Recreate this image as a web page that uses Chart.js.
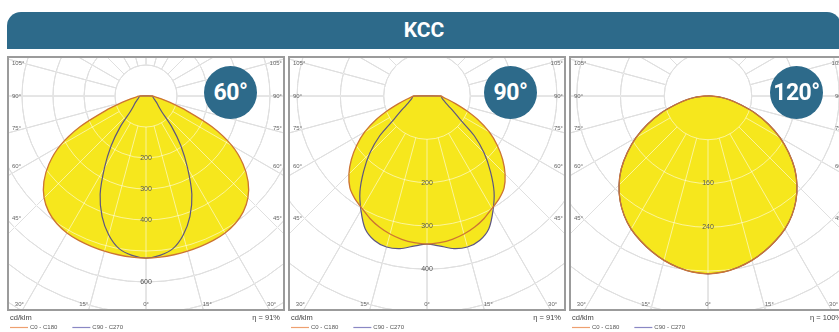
<!DOCTYPE html>
<html>
<head>
<meta charset="utf-8">
<script src="https://cdn.jsdelivr.net/npm/chart.js@4.4.0/dist/chart.umd.min.js"></script>
<style>
  html, body { margin: 0; padding: 0; background: #fff; }
  body { width: 839px; height: 332px; position: relative; overflow: hidden; font-family: Roboto, "DejaVu Sans", sans-serif; }
  .header { position: absolute; left: 7px; top: 12px; width: 834px; height: 37px; background: #2d6a8a;
            border-radius: 14px 14px 0 0; color: #fff; font-weight: 700; font-size: 21px; line-height: 37px; text-align: center; }
  .panel { position: absolute; top: 55px; }
  .badge { position: absolute; top: 66px; width: 53px; height: 53px; border-radius: 50%; background: #2d6a8a;
           color: #fff; font-weight: 700; font-size: 23px; line-height: 53px; text-align: center; letter-spacing: -0.5px; }
</style>
</head>
<body>
<div class="header">KCC</div>
<canvas class="panel" id="p60" width="278" height="277" style="left:7px"></canvas>
<canvas class="panel" id="p90" width="278" height="277" style="left:288px"></canvas>
<canvas class="panel" id="p120" width="278" height="277" style="left:569px"></canvas>
<div class="badge" id="b60" style="left:204px"></div>
<div class="badge" id="b90" style="left:484px"></div>
<div class="badge" id="b120" style="left:770px"></div>

<script>
// beam angles and efficiencies
const beamLabels = ["60°", "90°", "120°"];
const etaLabels = ["η = 91%", "η = 91%", "η = 100%"];
const seriesNames = ["C0 - C180", "C90 - C270"];
const unitLabel = "cd/klm";

// gamma angles (0° = straight down), intensities in cd/klm
const gamma = [0, 5, 10, 15, 20, 25, 30, 35, 40, 45, 50, 55, 60, 65, 70, 75, 80, 85, 90];

const c0_60  = [523, 522, 520, 518, 516, 514, 510, 502, 488, 465, 430, 382, 320, 235, 140, 80, 48, 30, 21];
const c90_60 = [523, 516, 500, 464, 414, 350, 268, 196, 128, 72, 54, 45, 38, 32, 28, 25, 23, 22, 21];

const c0_90  = [342, 340, 336, 330, 322, 312, 300, 290, 277, 255, 228, 198, 166, 130, 95, 68, 50, 38, 32];
const c90_90 = [342, 348, 358, 361, 355, 338, 305, 270, 228, 187, 142, 92, 70, 55, 46, 40, 36, 34, 32];

const c0_120  = [325, 323, 318, 311, 302, 292, 281, 267, 250, 230, 207, 180, 152, 122, 92, 62, 40, 20, 6];
const c90_120 = [325, 323, 318, 311, 302, 292, 281, 267, 250, 230, 207, 180, 152, 122, 92, 62, 40, 20, 6];

// rings (intensity grid) and the ones that carry a label
const rings60 = [100, 200, 300, 400, 500, 600, 700, 800, 900];
const ringLabels60 = [200, 300, 400, 600];
const rings90 = [100, 200, 300, 400, 500, 600, 700];
const ringLabels90 = [200, 300, 400];
const rings120 = [80, 160, 240, 320, 400, 480, 560];
const ringLabels120 = [160, 240];

// angle tick labels
const sideAngles = [105, 90, 75, 60, 45];
const bottomAngles = [30, 15, 0];
const spokeStep = 15;

const YELLOW = "#f6e71d";
const COL_C0 = "#cc7433";
const COL_C90 = "#5d5580";
const LEG_C0 = "#eea070";
const LEG_C90 = "#8a88c4";
const FRAME = "#9b9b9b";
const LABEL = "#666";

const rad = (d) => d * Math.PI / 180;

function polarPoints(values) {
  const pts = [];
  for (let i = gamma.length - 1; i >= 0; i--) {
    pts.push({ x: -values[i] * Math.sin(rad(gamma[i])), y: -values[i] * Math.cos(rad(gamma[i])) });
  }
  for (let i = 1; i < gamma.length; i++) {
    pts.push({ x: values[i] * Math.sin(rad(gamma[i])), y: -values[i] * Math.cos(rad(gamma[i])) });
  }
  return pts;
}

function drawGrid(chart, o, color) {
  const { ctx, chartArea: a, scales: { x, y } } = chart;
  const cx = x.getPixelForValue(0), cy = y.getPixelForValue(0);
  const r = (v) => x.getPixelForValue(v) - cx;
  ctx.save();
  ctx.beginPath();
  ctx.rect(a.left, a.top, a.width, a.height);
  ctx.clip();
  ctx.strokeStyle = color;
  ctx.lineWidth = 1;
  o.rings.forEach((v) => {
    ctx.beginPath();
    ctx.arc(cx, cy, r(v), 0, Math.PI * 2);
    ctx.stroke();
  });
  const r0 = r(o.rings[0]);
  const r1 = r(o.rings[o.rings.length - 1]) * 2;
  for (let g = 0; g < 360; g += spokeStep) {
    const sx = Math.sin(rad(g)), sy = Math.cos(rad(g));
    ctx.beginPath();
    ctx.moveTo(cx + sx * r0, cy + sy * r0);
    ctx.lineTo(cx + sx * r1, cy + sy * r1);
    ctx.stroke();
  }
  ctx.restore();
}

const polarPlugin = {
  id: "polarGrid",
  beforeDatasetsDraw(chart, args, o) {
    drawGrid(chart, o, "#bababa");
  },
  afterDatasetDraw(chart, args, o) {
    // fills are done: lay a pale grid over the yellow
    if (args.index === 2) drawGrid(chart, o, "rgba(255,255,255,0.55)");
  },
  afterDraw(chart, args, o) {
    const { ctx, chartArea: a, scales: { x, y } } = chart;
    const cx = x.getPixelForValue(0), cy = y.getPixelForValue(0);
    ctx.save();
    // intensity labels
    ctx.fillStyle = "#555";
    ctx.font = "7px 'Liberation Sans'";
    ctx.textAlign = "center";
    ctx.textBaseline = "middle";
    o.ringLabels.forEach((v) => ctx.fillText(String(v), cx, y.getPixelForValue(-v)));

    // angle labels on the sides
    ctx.fillStyle = LABEL;
    ctx.font = "6px 'Liberation Sans'";
    const xCross = a.left + 16;
    sideAngles.forEach((g) => {
      const yy = cy + (cx - xCross) / Math.tan(rad(g));
      ctx.textAlign = "left";
      ctx.fillText(g + "°", a.left + 4, yy);
      ctx.textAlign = "right";
      ctx.fillText(g + "°", a.right - 2, yy);
    });
    // angle labels along the bottom
    const yb = a.bottom - 6;
    bottomAngles.forEach((g) => {
      const t = g + "°";
      if (g === 0) {
        ctx.textAlign = "center";
        ctx.fillText(t, cx, yb);
        return;
      }
      const w = ctx.measureText(t).width;
      const dx = (yb - cy) * Math.tan(rad(g));
      let xl = cx - dx - 2;
      if (xl - w < a.left + 4) xl = a.left + 4 + w;
      ctx.textAlign = "right";
      ctx.fillText(t, xl, yb);
      let xr = cx + dx + 1;
      if (xr + w > a.right - 2) xr = a.right - 2 - w;
      ctx.textAlign = "left";
      ctx.fillText(t, xr, yb);
    });

    // frame
    ctx.strokeStyle = FRAME;
    ctx.lineWidth = 2;
    ctx.strokeRect(a.left, a.top, a.width, a.height);

    // unit, efficiency and legend under the frame
    ctx.fillStyle = "#444";
    ctx.font = "7.5px 'Liberation Sans'";
    ctx.textAlign = "left";
    ctx.fillText(unitLabel, a.left + 2, a.bottom + 8);
    ctx.textAlign = "right";
    ctx.fillText(o.eta, a.right - 4, a.bottom + 8);

    ctx.font = "6px 'Liberation Sans'";
    ctx.textAlign = "left";
    let lx = a.left + 2;
    const ly = a.bottom + 17;
    [LEG_C0, LEG_C90].forEach((col, i) => {
      const name = chart.data.datasets[i].label;
      ctx.strokeStyle = col;
      ctx.lineWidth = 1.2;
      ctx.beginPath();
      ctx.moveTo(lx, ly + 0.5);
      ctx.lineTo(lx + 18, ly + 0.5);
      ctx.stroke();
      ctx.fillStyle = "#555";
      ctx.fillText(name, lx + 20, ly);
      lx += 20 + ctx.measureText(name).width + 15;
    });
    ctx.restore();
  },
};

function makeChart(id, c0, c90, rings, ringLabels, pxPerCd, eta) {
  const canvas = document.getElementById(id);
  const pad = { left: 1, right: 1, top: 2, bottom: 22 };
  const aw = canvas.width - pad.left - pad.right;
  const ah = canvas.height - pad.top - pad.bottom;
  const cxOff = aw / 2, cyOff = 39;
  const p0 = polarPoints(c0), p90 = polarPoints(c90);
  const line = { showLine: true, pointRadius: 0, tension: 0.25 };

  return new Chart(canvas.getContext("2d"), {
    type: "scatter",
    data: {
      datasets: [
        { ...line, label: seriesNames[0], data: p0.concat([p0[0]]), borderColor: COL_C0, borderWidth: 1.3, fill: false },
        { ...line, label: seriesNames[1], data: p90.concat([p90[0]]), borderColor: COL_C90, borderWidth: 1.2, fill: false },
        { ...line, label: "fill0", data: p0, borderWidth: 0, borderColor: YELLOW, backgroundColor: YELLOW, fill: "shape" },
        { ...line, label: "fill90", data: p90, borderWidth: 0, borderColor: YELLOW, backgroundColor: YELLOW, fill: "shape" },
      ],
    },
    options: {
      responsive: false,
      animation: false,
      events: [],
      layout: { padding: pad },
      scales: {
        x: { type: "linear", display: false, min: -cxOff / pxPerCd, max: cxOff / pxPerCd },
        y: { type: "linear", display: false, min: -(ah - cyOff) / pxPerCd, max: cyOff / pxPerCd },
      },
      plugins: {
        legend: { display: false },
        tooltip: { enabled: false },
        polarGrid: { rings: rings, ringLabels: ringLabels, eta: eta },
      },
    },
    plugins: [polarPlugin],
  });
}

makeChart("p60", c0_60, c90_60, rings60, ringLabels60, 0.31, etaLabels[0]);
makeChart("p90", c0_90, c90_90, rings90, ringLabels90, 0.433, etaLabels[1]);
makeChart("p120", c0_120, c90_120, rings120, ringLabels120, 0.547, etaLabels[2]);

document.getElementById("b60").textContent = beamLabels[0];
document.getElementById("b90").textContent = beamLabels[1];
document.getElementById("b120").textContent = beamLabels[2];
</script>
</body>
</html>
